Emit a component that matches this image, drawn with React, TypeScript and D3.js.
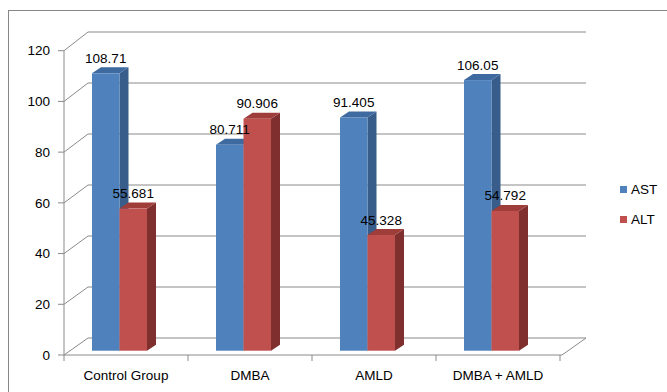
import React from "react";
import * as d3 from "d3";

const categories = ["Control Group", "DMBA", "AMLD", "DMBA + AMLD"];
const series = ["AST", "ALT"];
const astValues = [108.71, 80.711, 91.405, 106.05];
const altValues = [55.681, 90.906, 45.328, 54.792];
const yTicks = [0, 20, 40, 60, 80, 100, 120];

const colors: Record<string, { front: string; side: string; top: string }> = {
  AST: { front: "#4F81BD", side: "#385D8A", top: "#3E6AA0" },
  ALT: { front: "#C0504D", side: "#7F302E", top: "#9E3D3A" },
};

const W = 667;
const H = 392;
const FONT = "'Liberation Sans', Arial, sans-serif";

// 3d depth of the floor and of the bars
const DEPTH = { dx: 24, dy: -17.5 };
const BAR_DEPTH = { dx: 9, dy: -6 };
const GRID = "#8A8A8A";

export default function App() {
  const x = d3.scaleBand<string>().domain(categories).range([64, 560]).padding(0);
  const inner = d3.scaleBand<string>().domain(series).range([-27.5, 27.5]).padding(0);
  const yFront = d3.scaleLinear().domain([0, 120]).range([355, 50.7]);
  const yBack = d3.scaleLinear().domain([0, 120]).range([338, 32]);
  const yBar = d3.scaleLinear().domain([0, 120]).range([350.7, 44.5]);

  const x0 = 64;
  const x1 = 560 + 2;
  const bx0 = x0 + DEPTH.dx;
  const bx1 = x1 + DEPTH.dx;

  const bars = categories.flatMap((c, i) =>
    series.map((s) => ({
      cat: c,
      key: s,
      value: s === "AST" ? astValues[i] : altValues[i],
    }))
  );

  return (
    <svg
      width={W}
      height={H}
      style={{ position: "absolute", left: 0, top: 0, background: "#fff" }}
      fontFamily={FONT}
    >
      <rect x={8.5} y={10.5} width={W} height={H} fill="#fff" stroke="#878787" />

      {/* back wall gridlines + left wall diagonals */}
      {yTicks.map((t) => (
        <g key={t} stroke={GRID} strokeWidth={1} fill="none">
          <line x1={bx0} x2={bx1} y1={yBack(t)} y2={yBack(t)} />
          <line x1={x0} y1={yFront(t)} x2={bx0} y2={yBack(t)} />
          <line x1={x0 - 6} x2={x0} y1={yFront(t)} y2={yFront(t)} />
          <text
            x={50}
            y={yFront(t)}
            dy="0.35em"
            textAnchor="end"
            fontSize={13.5}
            fill="#000"
            stroke="none"
          >
            {t}
          </text>
        </g>
      ))}

      {/* floor and axes */}
      <g stroke={GRID} strokeWidth={1} fill="none">
        <line x1={x0} x2={x0} y1={yFront(120)} y2={yFront(0) + 6} />
        <line x1={x0} x2={x1} y1={yFront(0)} y2={yFront(0)} />
        <line x1={x1} y1={yFront(0)} x2={bx1} y2={yBack(0)} />
        {categories.map((c) => (
          <line key={c} x1={(x(c) as number) + x.bandwidth()} x2={(x(c) as number) + x.bandwidth()} y1={yFront(0)} y2={yFront(0) + 6} />
        ))}
      </g>

      {/* bars */}
      {bars.map((b) => {
        const cx = (x(b.cat) as number) + x.bandwidth() / 2 - 6.5;
        const left = cx + (inner(b.key) as number);
        const right = left + inner.bandwidth();
        const top = yBar(b.value);
        const bot = yBar(0);
        const c = colors[b.key];
        const { dx, dy } = BAR_DEPTH;
        return (
          <g key={b.cat + b.key}>
            <polygon
              points={`${right},${top} ${right + dx},${top + dy} ${right + dx},${bot + dy} ${right},${bot}`}
              fill={c.side}
            />
            <polygon
              points={`${left},${top} ${left + dx},${top + dy} ${right + dx},${top + dy} ${right},${top}`}
              fill={c.top}
            />
            <rect x={left} y={top} width={right - left} height={bot - top} fill={c.front} />
          </g>
        );
      })}

      {/* data labels */}
      {bars.map((b) => {
        const cx = (x(b.cat) as number) + x.bandwidth() / 2 - 6.5;
        const mid = cx + (inner(b.key) as number) + inner.bandwidth() / 2;
        return (
          <text
            key={"l" + b.cat + b.key}
            x={mid}
            y={yBar(b.value) - 10.5}
            textAnchor="middle"
            fontSize={13.5}
            fill="#000"
          >
            {b.value}
          </text>
        );
      })}

      {/* category labels */}
      {categories.map((c) => (
        <text
          key={c}
          x={(x(c) as number) + x.bandwidth() / 2}
          y={380}
          textAnchor="middle"
          fontSize={13.5}
          fill="#000"
        >
          {c}
        </text>
      ))}

      {/* legend */}
      {series.map((s, i) => (
        <g key={s} transform={`translate(620, ${186 + i * 30})`}>
          <rect width={7} height={7} fill={colors[s].front} />
          <text x={11} y={3.5} dy="0.35em" fontSize={13.5} fill="#000">
            {s}
          </text>
        </g>
      ))}
    </svg>
  );
}
